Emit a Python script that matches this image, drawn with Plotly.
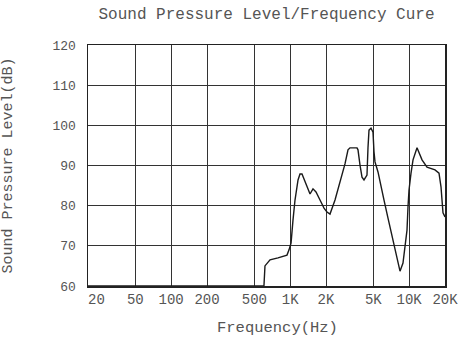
import plotly.graph_objects as go

# Frequency (Hz) and sound pressure level (dB)
freq_hz = [20, 591, 602, 614, 677, 790, 940, 978, 1017, 1056, 1098, 1164, 1209, 1257,
           1358, 1468, 1555, 1648, 1781, 1925, 2039, 2161, 2381, 2622, 2888, 3061,
           3181, 3645, 3715, 3862, 4014, 4172, 4421, 4507, 4596, 4778, 4966, 5063,
           5162, 5470, 5798, 6145, 6638, 7172, 7750, 8374, 8872, 9224, 9588, 9776,
           9968, 10362, 10772, 11638, 12822, 14122, 16482, 17808, 18510, 18872,
           19240, 20000]
spl_db = [60, 60, 60, 65.0, 66.5, 67.0, 67.7, 69.0, 70.7, 76.4, 81.4, 86.4, 87.9, 87.9,
          85.2, 82.9, 84.2, 83.4, 81.4, 79.4, 78.4, 77.9, 81.4, 85.6, 90.4, 93.9,
          94.4, 94.4, 93.9, 90.1, 87.1, 86.4, 87.6, 94.4, 98.8, 99.3, 98.3, 93.4,
          90.9, 88.4, 85.2, 81.4, 76.9, 72.7, 67.7, 63.7, 65.7, 69.7, 73.9, 79.7,
          83.9, 88.1, 91.4, 94.4, 91.4, 89.6, 88.9, 88.1, 84.7, 81.4, 78.2, 77.2]

x_tick_vals = [20, 50, 100, 200, 500, 1000, 2000, 5000, 10000, 20000]
x_tick_text = ["\u00a0\u00a020", "50", "100", "200", "500", "1K", "2K", "5K", "10K", "20K"]
y_tick_vals = [60, 70, 80, 90, 100, 110, 120]

title_text = "Sound Pressure Level/Frequency Cure"
x_title = "Frequency(Hz)"
y_title = "Sound Pressure Level(dB)"

FONT = "Liberation Mono"
TXT = "#555555"
GRID = "#333333"

fig = go.Figure()
fig.add_trace(go.Scatter(
    x=freq_hz, y=spl_db, mode="lines",
    line=dict(color="#1a1a1a", width=1.4),
    cliponaxis=False, hoverinfo="skip", showlegend=False,
))

fig.update_layout(
    width=459, height=338, autosize=False,
    margin=dict(l=88, r=14, t=45, b=52, autoexpand=False),
    paper_bgcolor="white", plot_bgcolor="white",
    font=dict(family=FONT, color=TXT),
    title=dict(text=title_text, x=0.5, xref="paper", y=1 - 13 / 338,
               yref="container", xanchor="center", yanchor="middle",
               font=dict(family=FONT, size=16, color=TXT)),
    xaxis=dict(
        type="log", range=[1.30103, 4.30103], automargin=False,
        tickvals=x_tick_vals, ticktext=x_tick_text,
        tickfont=dict(family=FONT, size=14, color=TXT),
        showgrid=True, gridcolor=GRID, gridwidth=1,
        showline=True, linecolor="#222222", linewidth=1.5, mirror=True,
        ticks="", zeroline=False, fixedrange=True,
    ),
    yaxis=dict(
        range=[60, 120], tickvals=y_tick_vals, automargin=False,
        tickfont=dict(family=FONT, size=13, color=TXT),
        showgrid=True, gridcolor=GRID, gridwidth=1,
        showline=True, linecolor="#222222", linewidth=1.5, mirror=True,
        ticks="", ticklabelstandoff=8, zeroline=False, fixedrange=True,
    ),
    annotations=[
        dict(text=x_title, xref="paper", yref="paper", x=0.532, y=-0.174,
             xanchor="center", yanchor="middle", showarrow=False,
             font=dict(family=FONT, size=15.5, color=TXT)),
        dict(text=y_title, xref="paper", yref="paper", x=-0.224, y=0.5,
             xanchor="center", yanchor="middle", showarrow=False, textangle=-90,
             font=dict(family=FONT, size=15, color=TXT)),
    ],
)

fig.write_html(
    "out.html",
    config={"displayModeBar": False, "responsive": False, "staticPlot": True},
    post_script="document.body.style.margin='0';document.body.style.overflow='hidden';"
                "document.documentElement.style.overflow='hidden';",
)
